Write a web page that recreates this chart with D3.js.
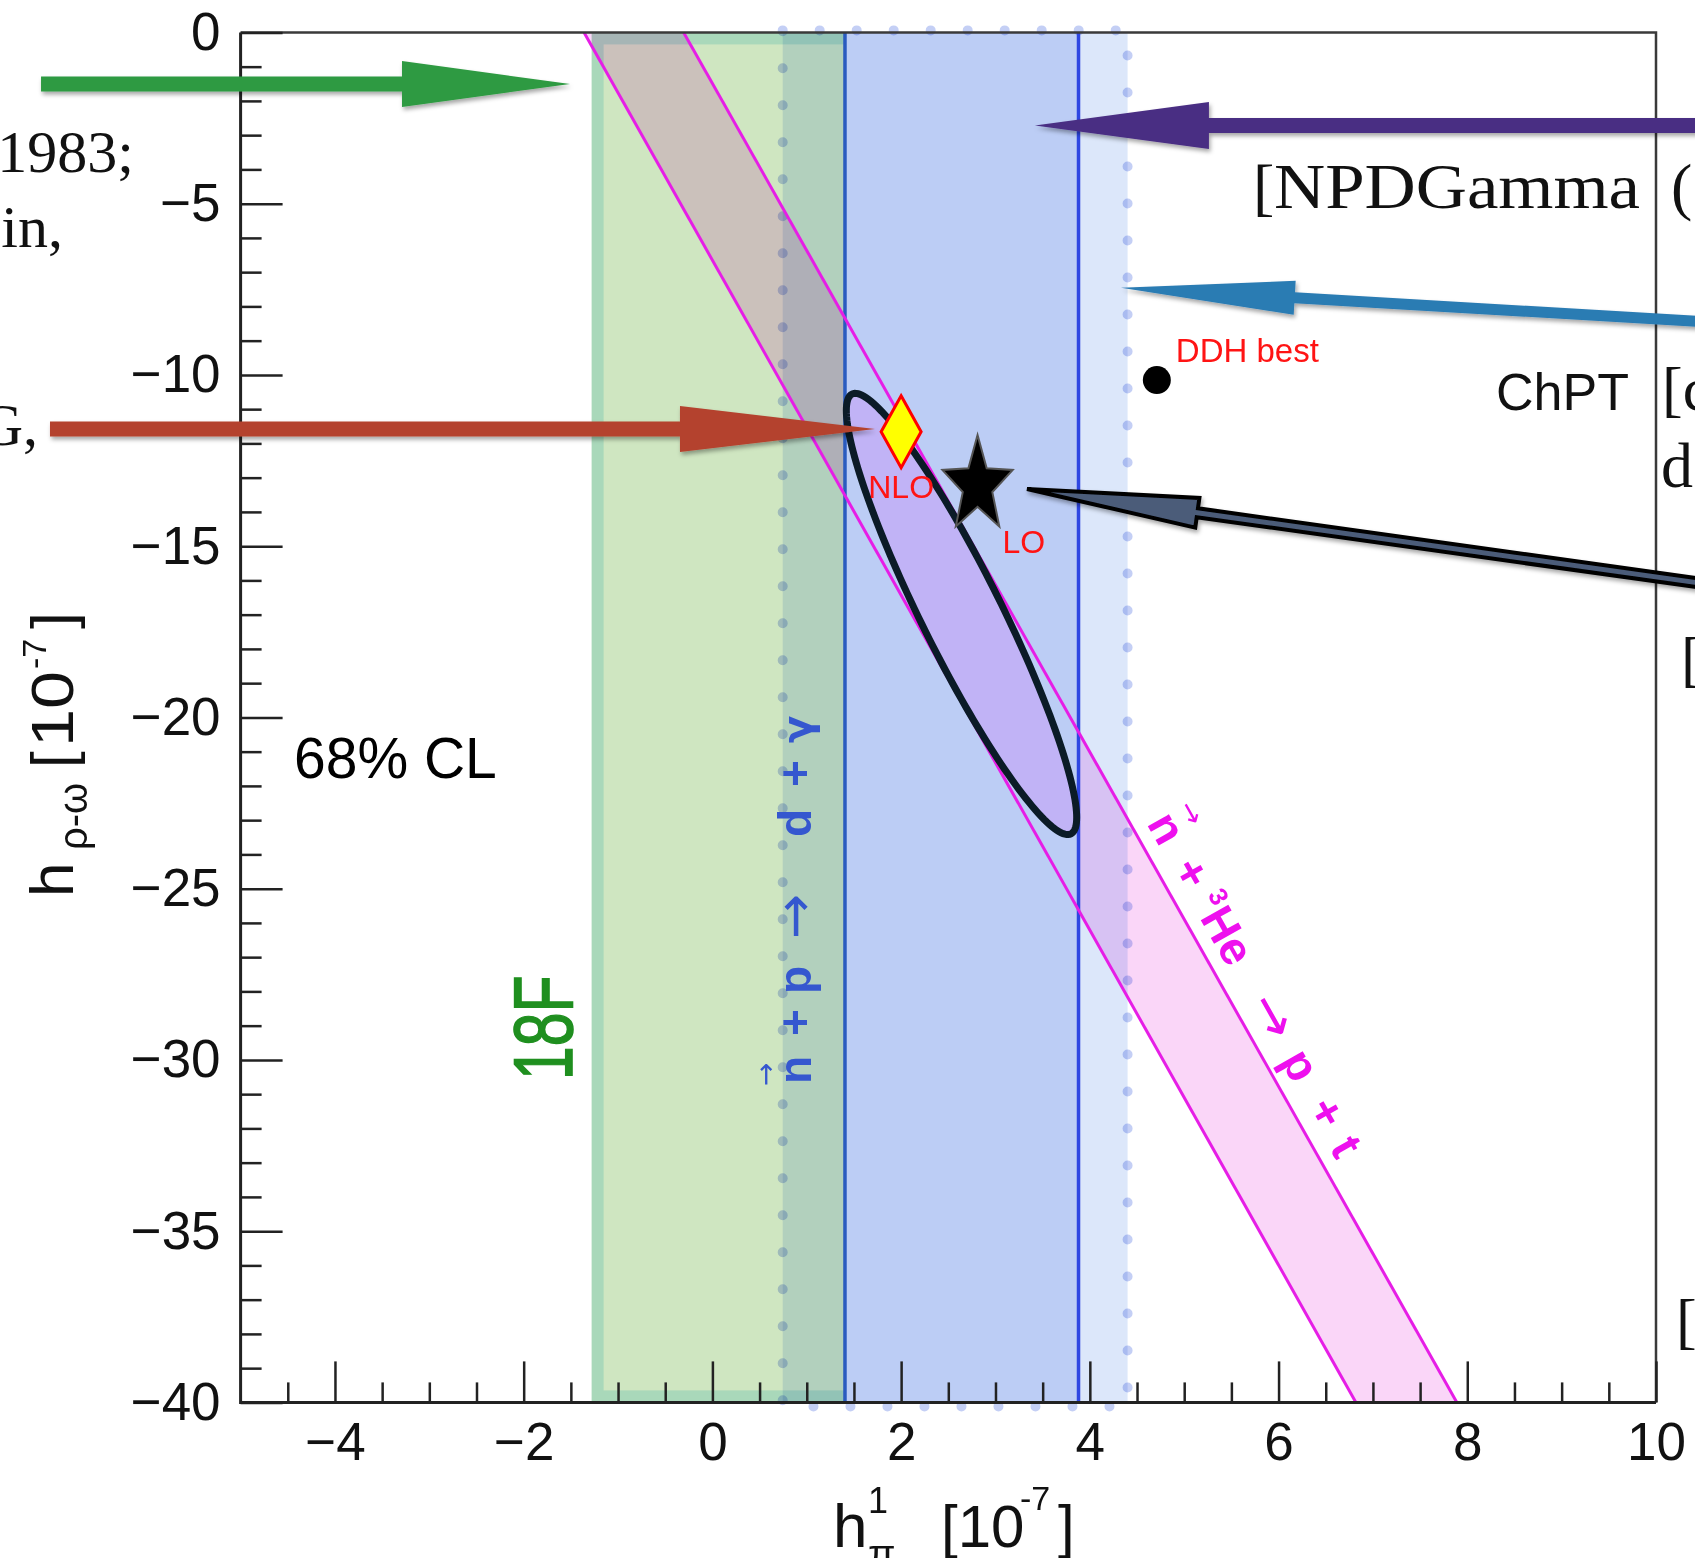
<!DOCTYPE html>
<html>
<head>
<meta charset="utf-8">
<script src="https://cdn.jsdelivr.net/npm/d3@7"></script>
<style>
  html, body { margin: 0; padding: 0; background: #fff; overflow: hidden; }
  svg { display: block; }
  text { font-family: "Liberation Sans", Arial, Helvetica, sans-serif; }
  .serif { font-family: "Liberation Serif", "Times New Roman", serif; }
  .arrowGlyph { font-family: "DejaVu Sans", sans-serif; font-weight: normal; }
  .greek { font-family: "DejaVu Sans", sans-serif; }
</style>
</head>
<body>
<svg id="chart" width="1695" height="1558"></svg>
<script>
// ---- axis ranges and tick labels ----
const xDomain = [-5, 10];
const yDomain = [-40, 0];
const xMajorTicks = [-4, -2, 0, 2, 4, 6, 8, 10];
const yMajorTicks = [0, -5, -10, -15, -20, -25, -30, -35, -40];

// ---- experimental constraints (units of 1e-7) ----
const band18F = [-1.28, 1.405];          // 18F, h_pi^1 interval
const bandNpdTotal = [0.745, 4.40];      // n+p -> d+gamma, outer (dotted) interval
const bandNpdStat = [1.405, 3.88];       // n+p -> d+gamma, inner interval
const he3Upper = [{ x: -0.305, y: 0 }, { x: 7.89, y: -40 }];  // n + 3He -> p + t band edges
const he3Lower = [{ x: -1.36, y: 0 }, { x: 6.82, y: -40 }];

// 68% CL fit ellipse: centre, end of major axis, minor/major ratio
const fitCenter = [2.64, -16.98];
const fitTip = [1.48, -10.56];
const fitAxisRatio = 0.163;

// theory points
const pointNLO = { label: "NLO", x: 2.0, y: -11.66 };
const pointLO = { label: "LO", x: 2.81, y: -13.23 };
const pointDDH = { label: "DDH best", x: 4.71, y: -10.15 };

// call-out arrows (tail and tip in plot units; head sizes in px)
const callouts = [
  { fill: "#2e9a42", from: [-7.115, -1.507], to: [-1.509, -1.507], shaft: 15, head: 23, len: 168 },
  { fill: "#4a2e83", from: [10.47, -2.72], to: [3.418, -2.72], shaft: 15, head: 23.5, len: 174 },
  { fill: "#2b7bb3", from: [10.47, -8.44], to: [4.33, -7.454], shaft: 11, head: 17, len: 174 },
  { fill: "#b4432f", from: [-7.02, -11.58], to: [1.723, -11.58], shaft: 15, head: 23, len: 195 },
  { fill: "#4b5c79", stroke: "#000", from: [10.47, -16.08], to: [3.334, -13.33], shaft: 9, head: 15, len: 172 }
];

// ---- scales ----
const W = 1695, H = 1558;
const x = d3.scaleLinear().domain(xDomain).range([240.6, 1656]);
const y = d3.scaleLinear().domain(yDomain).range([1402.4, 32.4]);

const svg = d3.select("#chart");
svg.append("rect").attr("width", W).attr("height", H).attr("fill", "#fff");

const defs = svg.append("defs");
const shadow = defs.append("filter").attr("id", "shadow")
  .attr("x", "-10%").attr("y", "-50%").attr("width", "120%").attr("height", "200%");
shadow.append("feDropShadow").attr("dx", 1.5).attr("dy", 3).attr("stdDeviation", 2.2)
  .attr("flood-color", "#000").attr("flood-opacity", 0.35);

const plot = svg.append("g");

// 18F band (teal rim, light green interior)
{
  const x0 = x(band18F[0]), x1 = x(band18F[1]);
  plot.append("rect")
    .attr("x", x0 + 6).attr("y", y(0) + 6)
    .attr("width", x1 - x0).attr("height", y(-40) - y(0) - 12)
    .attr("fill", "#cfe6c1").attr("stroke", "#a9d8ba").attr("stroke-width", 12);
}

// n + 3He band
const bandLine = d3.line().x(d => x(d.x)).y(d => y(d.y));
plot.append("path")
  .attr("d", bandLine([he3Lower[0], he3Upper[0], he3Upper[1], he3Lower[1]]) + "Z")
  .attr("fill", "#fad6f8")
  .style("mix-blend-mode", "multiply");

// n + p -> d + gamma, outer band
plot.append("rect")
  .attr("x", x(bandNpdTotal[0])).attr("y", y(0))
  .attr("width", x(bandNpdTotal[1]) - x(bandNpdTotal[0]))
  .attr("height", y(-40) - y(0))
  .attr("fill", "#dce7fa")
  .style("mix-blend-mode", "multiply");

// n + p -> d + gamma, inner band
plot.append("rect")
  .attr("x", x(bandNpdStat[0])).attr("y", y(0))
  .attr("width", x(bandNpdStat[1]) - x(bandNpdStat[0]))
  .attr("height", y(-40) - y(0))
  .attr("fill", "#bccdf5");

// dotted outline of outer band
plot.append("rect")
  .attr("x", x(bandNpdTotal[0])).attr("y", y(0) - 2)
  .attr("width", x(bandNpdTotal[1]) - x(bandNpdTotal[0]))
  .attr("height", y(-40) - y(0) + 6)
  .attr("fill", "none")
  .attr("stroke", "#c4cff5").attr("stroke-width", 10)
  .attr("stroke-dasharray", "0 37").attr("stroke-linecap", "round")
  .style("mix-blend-mode", "multiply");

// inner band edges
plot.append("line")
  .attr("x1", x(bandNpdStat[0])).attr("x2", x(bandNpdStat[0]))
  .attr("y1", y(0)).attr("y2", y(-40))
  .attr("stroke", "#2a5bbf").attr("stroke-width", 3.5);
plot.append("line")
  .attr("x1", x(bandNpdStat[1])).attr("x2", x(bandNpdStat[1]))
  .attr("y1", y(0)).attr("y2", y(-40))
  .attr("stroke", "#2e46e2").attr("stroke-width", 3.5);

// n + 3He band edges
[he3Upper, he3Lower].forEach(edge => {
  plot.append("path").attr("d", bandLine(edge))
    .attr("fill", "none").attr("stroke", "#e61ee6").attr("stroke-width", 3);
});

// 68% CL ellipse
{
  const c = [x(fitCenter[0]), y(fitCenter[1])];
  const t = [x(fitTip[0]), y(fitTip[1])];
  const ax = t[0] - c[0], ay = t[1] - c[1];
  const a = Math.hypot(ax, ay), ux = ax / a, uy = ay / a, b = a * fitAxisRatio;
  const pts = d3.range(0, 360, 2).map(deg => {
    const th = deg * Math.PI / 180;
    return [c[0] + a * Math.cos(th) * ux - b * Math.sin(th) * uy,
            c[1] + a * Math.cos(th) * uy + b * Math.sin(th) * ux];
  });
  plot.append("path")
    .attr("d", d3.line().curve(d3.curveLinearClosed)(pts))
    .attr("fill", "#c1b3f6")
    .attr("stroke", "#0b1b27").attr("stroke-width", 7);
}

// ---- frame and axes ----
const frame = svg.append("g");
frame.append("path")
  .attr("d", `M${x(-5)},${y(0)}H${x(10)}V${y(-40)}`)
  .attr("fill", "none").attr("stroke", "#3a3a3a").attr("stroke-width", 2.5);

const tickFmt = d3.format("d");
const xMinor = d3.range(-5, 10.001, 0.5).filter(v => !xMajorTicks.includes(v) && v !== -5);
const yMinor = d3.range(-40, 0.001, 1).filter(v => !yMajorTicks.includes(v));

function styleAxis(g) {
  g.select(".domain").remove();
  g.selectAll(".tick line").attr("stroke", "#222").attr("stroke-width", 2.5);
  g.selectAll(".tick text").attr("fill", "#111")
    .style("font-family", "'Liberation Sans', Arial, sans-serif")
    .style("font-size", "53px");
}

frame.append("g").attr("transform", `translate(0,${y(-40)})`)
  .call(d3.axisBottom(x).tickValues(xMinor).tickSizeInner(-20).tickSizeOuter(0).tickFormat(""))
  .call(styleAxis);
frame.append("g").attr("transform", `translate(0,${y(-40)})`)
  .call(d3.axisBottom(x).tickValues(xMajorTicks).tickSizeInner(-41).tickSizeOuter(0)
    .tickPadding(20).tickFormat(tickFmt))
  .call(styleAxis);
frame.append("g").attr("transform", `translate(${x(-5)},0)`)
  .call(d3.axisLeft(y).tickValues(yMinor).tickSizeInner(-21).tickSizeOuter(0).tickFormat(""))
  .call(styleAxis);
frame.append("g").attr("transform", `translate(${x(-5)},0)`)
  .call(d3.axisLeft(y).tickValues(yMajorTicks).tickSizeInner(-42).tickSizeOuter(0)
    .tickPadding(20).tickFormat(tickFmt))
  .call(styleAxis);

frame.append("path")
  .attr("d", `M${x(-5)},${y(0)}V${y(-40)}H${x(10)}`)
  .attr("fill", "none").attr("stroke", "#222").attr("stroke-width", 3);

// ---- axis titles ----
const xt = svg.append("g").attr("fill", "#111");
xt.append("text").attr("x", 833).attr("y", 1547).attr("font-size", 62).text("h");
xt.append("text").attr("x", 868).attr("y", 1513).attr("font-size", 36).text("1");
xt.append("text").attr("x", 868).attr("y", 1568).attr("font-size", 40).text("π");
xt.append("text").attr("x", 941).attr("y", 1547).attr("font-size", 60).text("[10");
xt.append("text").attr("x", 1020).attr("y", 1510).attr("font-size", 34).text("-7");
xt.append("text").attr("x", 1058).attr("y", 1547).attr("font-size", 60).text("]");

const yt = svg.append("g").attr("fill", "#111").attr("transform", "translate(73,897) rotate(-90)");
yt.append("text").attr("x", 0).attr("y", 0).attr("font-size", 62).text("h");
yt.append("text").attr("x", 47).attr("y", 14).attr("font-size", 40).text("ρ-ω");
yt.append("text").attr("x", 129).attr("y", 0).attr("font-size", 60).text("[");
yt.append("text").attr("x", 150).attr("y", 0).attr("font-size", 60)
  .attr("textLength", 76).attr("lengthAdjust", "spacingAndGlyphs").text("10");
yt.append("text").attr("x", 228).attr("y", -27).attr("font-size", 34).text("-7");
yt.append("text").attr("x", 268).attr("y", 0).attr("font-size", 60).text("]");

// ---- band labels ----
svg.append("g").attr("transform", "translate(572,1080) rotate(-90)")
  .append("text").attr("transform", "scale(0.73,1)")
  .attr("font-size", 83).attr("fill", "#1f8f1f")
  .attr("stroke", "#1f8f1f").attr("stroke-width", 1.6).text("18F");

// n + p -> d + gamma, reading upwards along the outer band
{
  const g = svg.append("g").attr("transform", "translate(811,1084) rotate(-90)")
    .attr("fill", "#3557cf").attr("font-weight", "bold").attr("font-size", 46);
  const parts = [["n", 0], ["+", 48], ["p", 90], ["d", 247], ["+", 297]];
  parts.forEach(([s, u]) => g.append("text").attr("x", u).attr("y", 0).text(s));
  g.append("text").attr("class", "greek").attr("x", 341).attr("y", 0).attr("font-size", 40).text("γ");
  g.append("text").attr("class", "arrowGlyph").attr("x", 145).attr("y", 2).attr("font-size", 54).text("→");
  g.append("text").attr("class", "arrowGlyph").attr("x", -2).attr("y", -36).attr("font-size", 28).text("→");
}

// n + 3He -> p + t, along the upper band edge
{
  const p0 = [x(he3Upper[0].x), y(he3Upper[0].y)];
  const p1 = [x(he3Upper[1].x), y(he3Upper[1].y)];
  const ang = Math.atan2(p1[1] - p0[1], p1[0] - p0[0]);
  const frac = (-23.3 - he3Upper[0].y) / (he3Upper[1].y - he3Upper[0].y);
  const ox = p0[0] + frac * (p1[0] - p0[0]), oy = p0[1] + frac * (p1[1] - p0[1]);
  const off = 14;
  const bx = ox + Math.sin(ang) * off, by = oy - Math.cos(ang) * off;
  const g = svg.append("g")
    .attr("transform", `translate(${bx},${by}) rotate(${ang * 180 / Math.PI})`)
    .attr("fill", "#ee10ee").attr("font-weight", "bold").attr("font-size", 46);
  const parts = [["n", 0, 46], ["+", 52, 46], ["3", 92, 26, -18], ["He", 108, 46], ["p", 272, 46], ["+", 327, 46], ["t", 372, 46]];
  parts.forEach(([s, u, fs, dv]) => g.append("text").attr("x", u).attr("y", dv || 0).attr("font-size", fs).text(s));
  g.append("text").attr("class", "arrowGlyph").attr("x", 207).attr("y", 2).attr("font-size", 54).text("→");
  g.append("text").attr("class", "arrowGlyph").attr("x", 1).attr("y", -35).attr("font-size", 28).text("→");
}

svg.append("text").attr("x", 294).attr("y", 778).attr("font-size", 57).attr("fill", "#000").text("68% CL");

// ---- theory points ----
{
  const cx = x(pointNLO.x), cy = y(pointNLO.y);
  svg.append("path")
    .attr("d", `M${cx},${cy - 36}L${cx + 20},${cy}L${cx},${cy + 36}L${cx - 20},${cy}Z`)
    .attr("fill", "#ffff00").attr("stroke", "#ff0000").attr("stroke-width", 3);
  svg.append("text").attr("x", cx).attr("y", cy + 66).attr("text-anchor", "middle")
    .attr("font-size", 32).attr("fill", "#ff1414").text(pointNLO.label);
}
{
  const cx = x(pointLO.x), cy = y(pointLO.y);
  const rx = 37, ry = 50.5, inner = 0.42;
  const pts = d3.range(10).map(i => {
    const th = (-90 + i * 36) * Math.PI / 180, r = i % 2 ? inner : 1;
    return [cx + rx * r * Math.cos(th), cy + ry * r * Math.sin(th)];
  });
  svg.append("path").attr("d", d3.line().curve(d3.curveLinearClosed)(pts))
    .attr("fill", "#000").attr("stroke", "#555").attr("stroke-width", 2);
  svg.append("text").attr("x", cx + 25).attr("y", cy + 67)
    .attr("font-size", 32).attr("fill", "#ff1414").text(pointLO.label);
}
{
  const cx = x(pointDDH.x), cy = y(pointDDH.y);
  svg.append("circle").attr("cx", cx).attr("cy", cy).attr("r", 14).attr("fill", "#000");
  svg.append("text").attr("x", cx + 19).attr("y", cy - 18)
    .attr("font-size", 33).attr("fill", "#ff1414").text(pointDDH.label);
}

// ---- call-out arrows ----
function arrowPoints(p0, p1, sw, hw, hl) {
  const dx = p1[0] - p0[0], dy = p1[1] - p0[1], L = Math.hypot(dx, dy);
  const ux = dx / L, uy = dy / L, nx = -uy, ny = ux;
  const bx = p1[0] - ux * hl, by = p1[1] - uy * hl;
  return [
    [p0[0] + nx * sw / 2, p0[1] + ny * sw / 2], [bx + nx * sw / 2, by + ny * sw / 2],
    [bx + nx * hw, by + ny * hw], [p1[0], p1[1]], [bx - nx * hw, by - ny * hw],
    [bx - nx * sw / 2, by - ny * sw / 2], [p0[0] - nx * sw / 2, p0[1] - ny * sw / 2]
  ];
}
const arrows = svg.append("g").attr("filter", "url(#shadow)");
callouts.forEach(c => {
  const pts = arrowPoints([x(c.from[0]), y(c.from[1])], [x(c.to[0]), y(c.to[1])], c.shaft, c.head, c.len);
  arrows.append("path").attr("d", d3.line().curve(d3.curveLinearClosed)(pts))
    .attr("fill", c.fill)
    .attr("stroke", c.stroke || "none").attr("stroke-width", c.stroke ? 4 : 0)
    .attr("stroke-linejoin", "miter");
});

// ---- surrounding text ----
const side = svg.append("g").attr("fill", "#111");
side.append("text").attr("class", "serif").attr("x", 134).attr("y", 172).attr("font-size", 60).attr("text-anchor", "end").text("1983;");
side.append("text").attr("class", "serif").attr("x", 63).attr("y", 247).attr("font-size", 60).attr("text-anchor", "end").text("in,");
side.append("text").attr("class", "serif").attr("x", 38).attr("y", 445).attr("font-size", 60).attr("text-anchor", "end").text("G,");
side.append("text").attr("class", "serif").attr("x", 1253).attr("y", 208).attr("font-size", 64).text("[");
side.append("text").attr("class", "serif").attr("x", 1274).attr("y", 208).attr("font-size", 64)
  .attr("textLength", 366).attr("lengthAdjust", "spacingAndGlyphs").text("NPDGamma");
side.append("text").attr("class", "serif").attr("x", 1671).attr("y", 208).attr("font-size", 64).text("(");
side.append("text").attr("x", 1496).attr("y", 410).attr("font-size", 52).text("ChPT");
side.append("text").attr("class", "serif").attr("x", 1662).attr("y", 410).attr("font-size", 62).text("[c");
side.append("text").attr("class", "serif").attr("x", 1661).attr("y", 487).attr("font-size", 64).text("d");
side.append("text").attr("class", "serif").attr("x", 1681).attr("y", 680).attr("font-size", 62).text("[");
side.append("text").attr("class", "serif").attr("x", 1676).attr("y", 1342).attr("font-size", 62).text("[");
</script>
</body>
</html>
